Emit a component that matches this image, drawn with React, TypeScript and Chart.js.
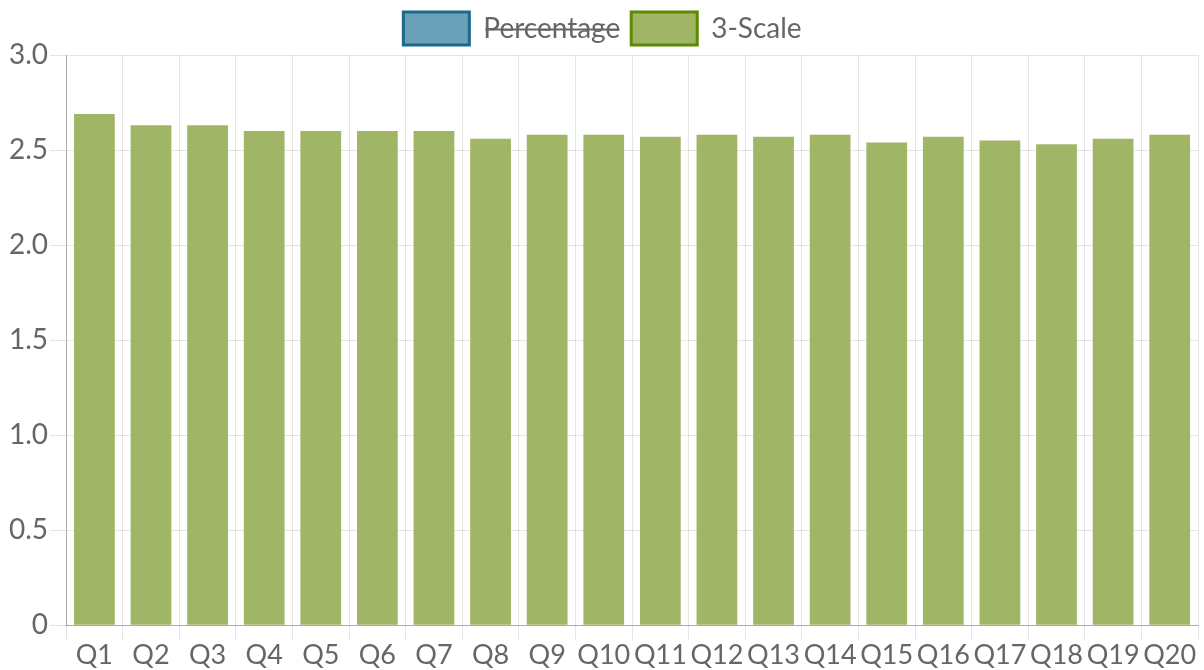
import React, { useEffect, useRef } from "react";
import { Chart, registerables } from "chart.js";

Chart.register(...registerables);

const categories = ["Q1","Q2","Q3","Q4","Q5","Q6","Q7","Q8","Q9","Q10","Q11","Q12","Q13","Q14","Q15","Q16","Q17","Q18","Q19","Q20"];
const scaleValues = [2.69,2.63,2.63,2.60,2.60,2.60,2.60,2.56,2.58,2.58,2.57,2.58,2.57,2.58,2.54,2.57,2.55,2.53,2.56,2.58];
const percentageValues = [89.7,87.7,87.7,86.7,86.7,86.7,86.7,85.3,86.0,86.0,85.7,86.0,85.7,86.0,84.7,85.7,85.0,84.3,85.3,86.0];
const yTicks = [0, 0.5, 1.0, 1.5, 2.0, 2.5, 3.0];

const seriesNames = ["Percentage", "3-Scale"];
const fills = ["rgba(106,160,184,1)", "rgba(160,181,102,1)"];
const borders = ["#1b6a8c", "#5c8a00"];

export default function App() {
  const ref = useRef<HTMLCanvasElement>(null);
  useEffect(() => {
    document.body.style.margin = "0";
    const ctx = ref.current!;
    const chart = new Chart(ctx, {
      type: "bar",
      data: {
        labels: categories,
        datasets: [
          { label: seriesNames[0], data: percentageValues, backgroundColor: fills[0], borderColor: borders[0], borderWidth: 0, hidden: true },
          { label: seriesNames[1], data: scaleValues, backgroundColor: fills[1], borderColor: borders[1], borderWidth: 0 },
        ],
      },
      options: {
        animation: false,
        responsive: false,
        devicePixelRatio: 1,
        layout: { padding: { right: 6, left: 7, top: 1, bottom: 0 } },
        plugins: {
          legend: {
            position: "top",
            labels: {
              font: { family: "Lato", size: 28 },
              color: "#666",
              boxWidth: 66,
              boxHeight: 33,
              padding: 11,
              generateLabels: (c: any) => {
                const items = Chart.defaults.plugins.legend.labels.generateLabels(c);
                return items.map((it: any, i: number) => ({ ...it, lineWidth: 3, strokeStyle: borders[i], fillStyle: fills[i] }));
              },
            },
          },
          tooltip: { enabled: false },
        },
        scales: {
          x: {
            grid: { color: "rgba(0,0,0,0.1)", tickLength: 15, offset: true },
            border: { color: "rgba(0,0,0,0.25)" },
            ticks: { font: { family: "Lato", size: 27, lineHeight: 1.1 }, color: "#666", maxRotation: 0, autoSkip: false, padding: 0 },
          },
          y: {
            min: 0,
            max: 3,
            afterBuildTicks: (axis: any) => { axis.ticks = yTicks.map((v) => ({ value: v })); },
            grid: { color: "rgba(0,0,0,0.1)", tickLength: 16 },
            border: { color: "rgba(0,0,0,0.25)" },
            ticks: {
              font: { family: "Lato", size: 28 },
              color: "#666",
              padding: 2,
              callback: (v: any) => (v === 0 ? "0" : Number(v).toFixed(1)),
            },
          },
        },
      },
    });
    return () => chart.destroy();
  }, []);
  return <canvas ref={ref} width={1204} height={670} style={{ display: "block" }} />;
}
